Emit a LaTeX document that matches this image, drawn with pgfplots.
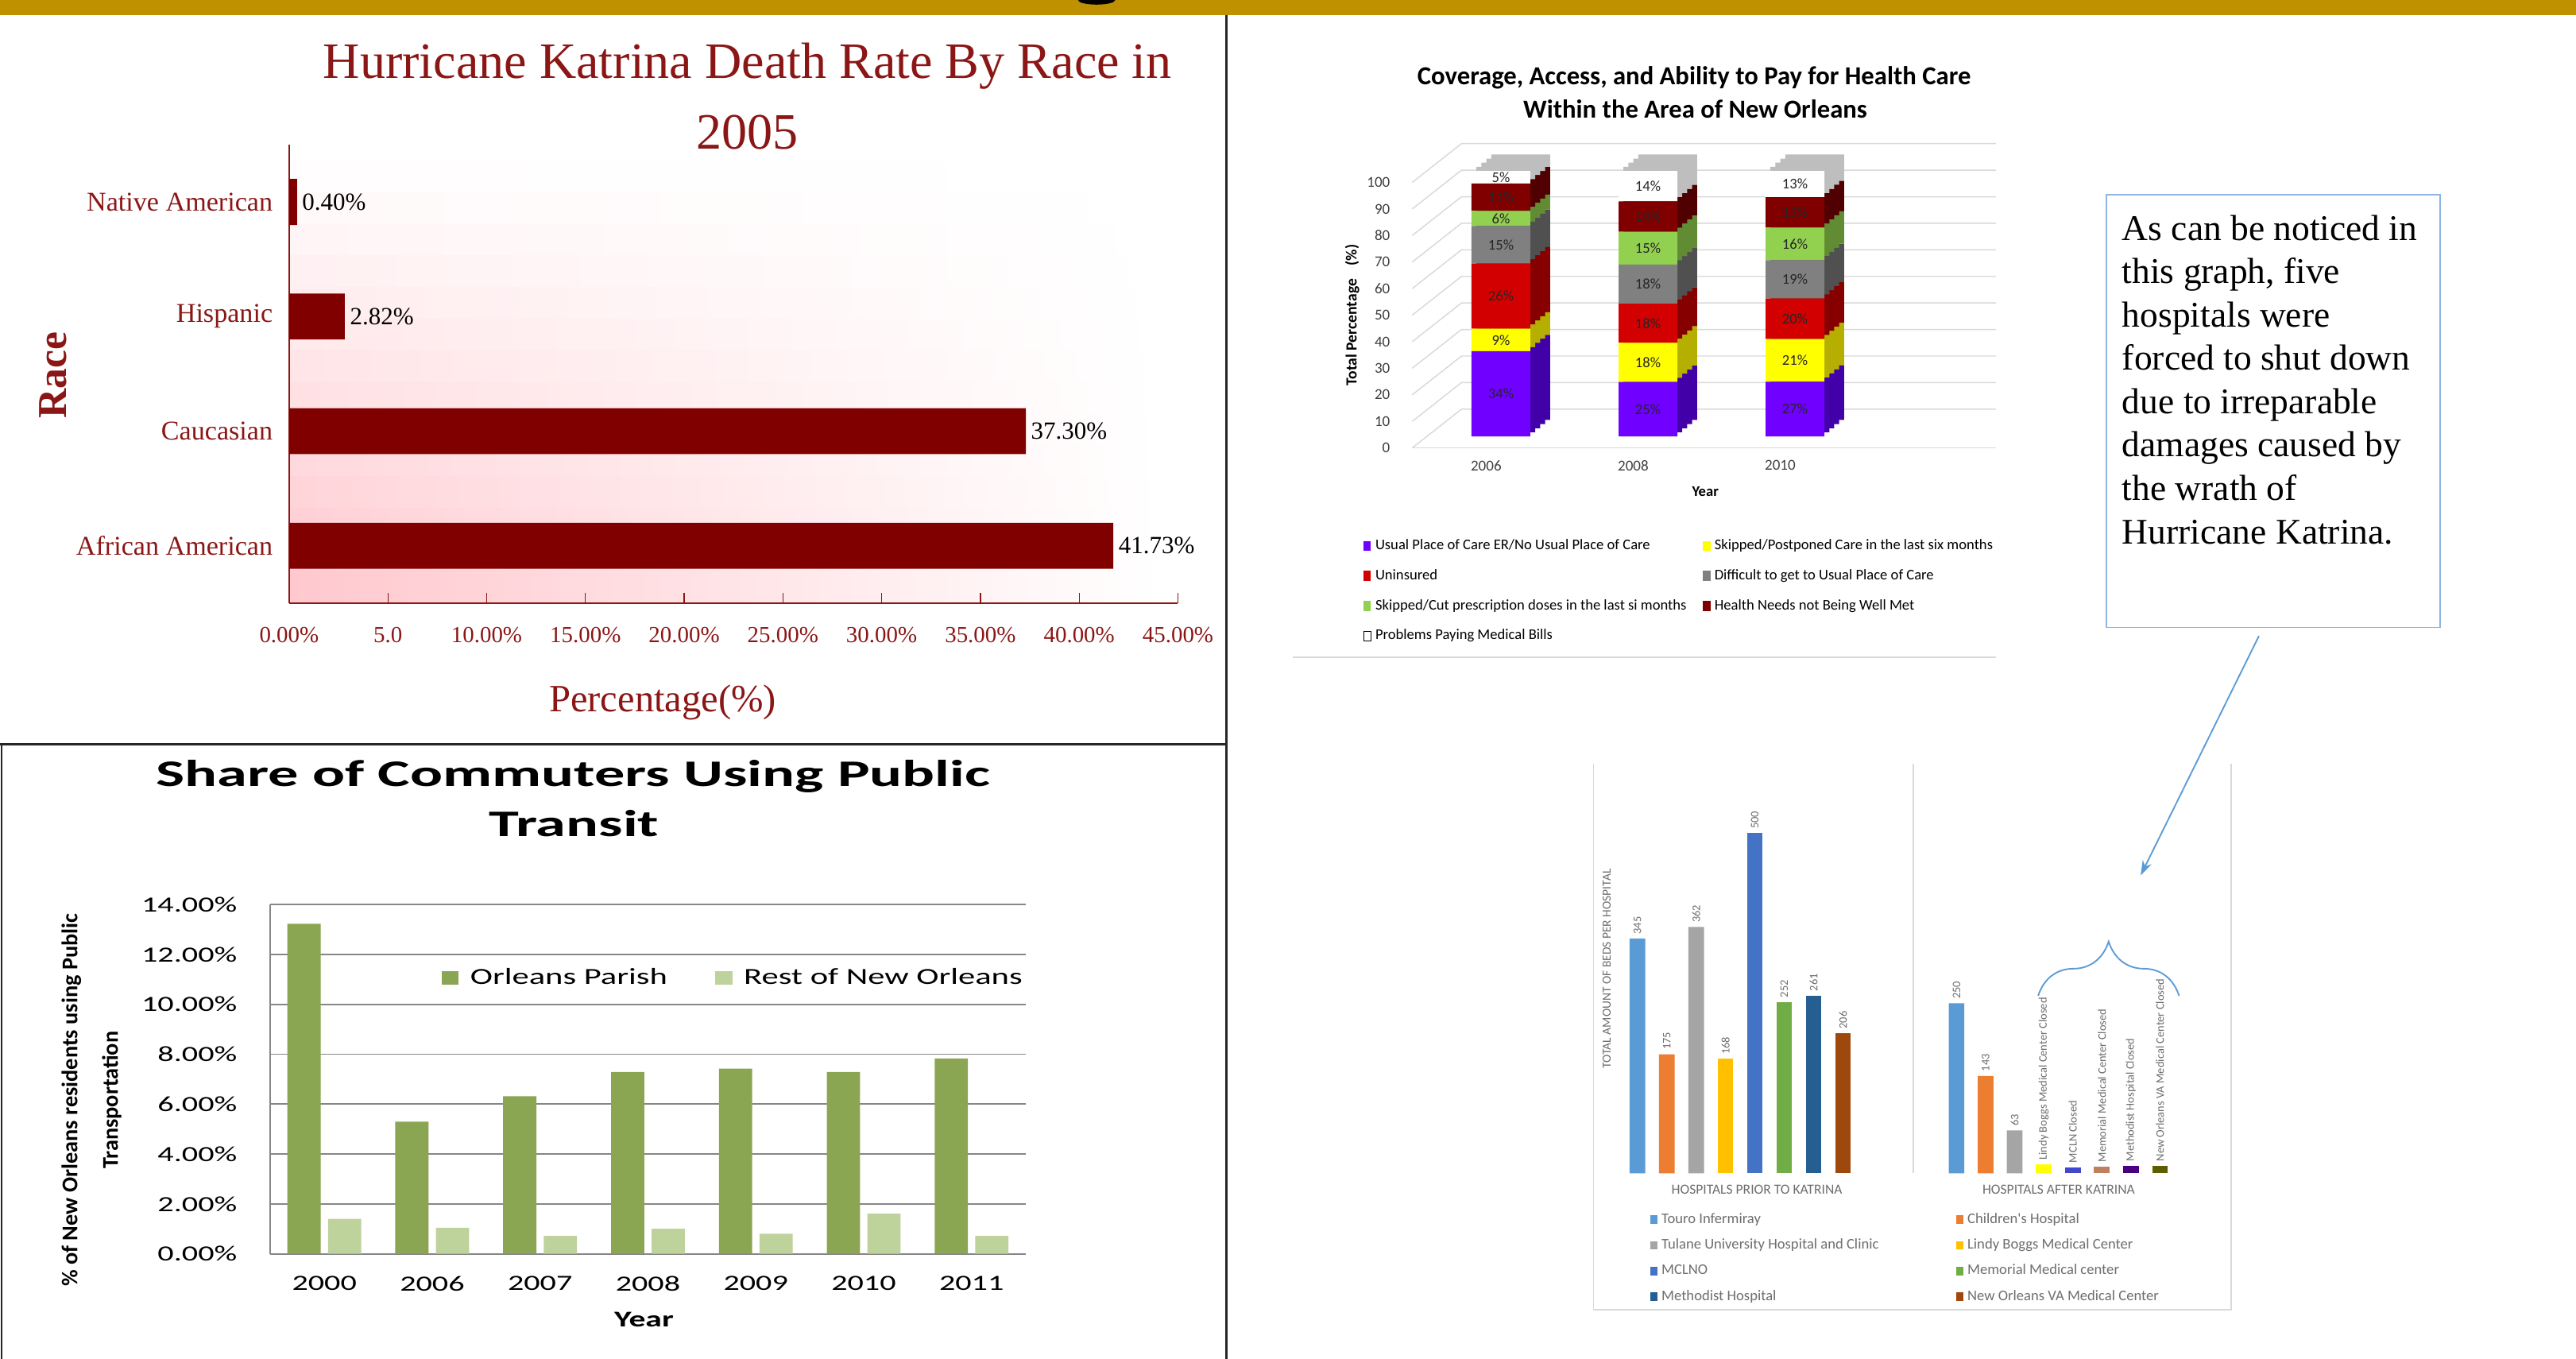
\documentclass[border=0pt]{standalone}
\usepackage{fontspec}
\usepackage{pgfplots}
\usepackage{pgfplotstable}
\pgfplotsset{compat=1.18}
\usetikzlibrary{decorations.pathreplacing,arrows.meta}
\setmainfont{Liberation Serif}
\newfontfamily\simf{Liberation Serif}
\newfontfamily\calib{Carlito}
\newfontfamily\calibW[FakeStretch=1.47]{Carlito}
\newfontfamily\calibT[FakeStretch=1.62]{Carlito}
\newcommand\fs[1]{\fontsize{#1}{#1}\selectfont}

\definecolor{gold}{RGB}{191,144,0}
\definecolor{maroon}{RGB}{128,0,0}
\definecolor{mtext}{RGB}{139,22,22}
\definecolor{pinkA}{RGB}{255,198,204}
\definecolor{cPur}{RGB}{112,0,255}\definecolor{sPur}{RGB}{66,0,168}
\definecolor{cYel}{RGB}{255,255,0}\definecolor{sYel}{RGB}{180,175,0}
\definecolor{cRed}{RGB}{210,0,0}\definecolor{sRed}{RGB}{135,0,0}
\definecolor{cGry}{RGB}{128,128,128}\definecolor{sGry}{RGB}{80,80,80}
\definecolor{cGrn}{RGB}{146,208,80}\definecolor{sGrn}{RGB}{98,140,52}
\definecolor{cDrd}{RGB}{128,0,0}\definecolor{sDrd}{RGB}{80,0,0}
\definecolor{sWht}{RGB}{190,190,190}
\definecolor{wall}{RGB}{217,217,217}
\definecolor{tgrey}{RGB}{64,64,64}
\definecolor{orl}{RGB}{139,166,82}
\definecolor{rest}{RGB}{190,210,156}
\definecolor{gridg}{RGB}{134,134,134}
\definecolor{hTouro}{RGB}{91,155,213}
\definecolor{hChild}{RGB}{237,125,49}
\definecolor{hTulane}{RGB}{165,165,165}
\definecolor{hLindy}{RGB}{255,192,0}
\definecolor{hMclno}{RGB}{68,114,196}
\definecolor{hMemo}{RGB}{112,173,71}
\definecolor{hMeth}{RGB}{37,94,145}
\definecolor{hVA}{RGB}{158,72,14}
\definecolor{kYel}{RGB}{255,255,0}
\definecolor{kBlu}{RGB}{65,72,204}
\definecolor{kTan}{RGB}{191,128,96}
\definecolor{kPur}{RGB}{75,0,130}
\definecolor{kOli}{RGB}{94,94,0}
\definecolor{hgrey}{RGB}{110,110,110}
\definecolor{annot}{RGB}{91,155,213}
\definecolor{boxb}{RGB}{141,180,226}

% v = value, t = bar total, c = sum of the segments below
\pgfplotstableread{
x v t c
0 34 106 0
1 25 122 0
2 27 131 0
}\tPur
\pgfplotstableread{
x v t c
0 9 106 34
1 18 122 25
2 21 131 27
}\tYel
\pgfplotstableread{
x v t c
0 26 106 43
1 18 122 43
2 20 131 48
}\tRed
\pgfplotstableread{
x v t c
0 15 106 69
1 18 122 61
2 19 131 68
}\tGry
\pgfplotstableread{
x v t c
0 6 106 84
1 15 122 79
2 16 131 87
}\tGrn
\pgfplotstableread{
x v t c
0 11 106 90
1 14 122 94
2 15 131 103
}\tDrd
\pgfplotstableread{
x v t c
0 5 106 101
1 14 122 108
2 13 131 118
}\tWht

\pgfplotsset{
  seg/.style={fill=#1, draw=none, legend image code/.code={\fill[#1] (0pt,-3pt) rectangle (4.5pt,3pt);}},
  cm/.style={fill=#1, draw=none, legend image code/.code={\fill[#1] (0pt,-4pt) rectangle (10.6pt,4pt);}},
  hb/.style={ybar, bar width=9.5pt, bar shift=0pt, fill=#1, draw=none, legend image code/.code={\fill[#1] (0pt,-2.6pt) rectangle (4.5pt,2.6pt);}},
  box3d/.style={anchor=south west, scale only axis, width=355.4pt, height=161.6pt,
     xmin=-0.6034, xmax=3.368, ymin=0, ymax=100},
}
\newcommand\shadowaxis[2]{%
\begin{axis}[box3d, at={(#1,#2)}, hide axis, ybar stacked, bar width=35.8pt]
\addplot[fill=sPur, draw=none] table[x=x, y expr=\thisrow{v}/\thisrow{t}*100] {\tPur};
\addplot[fill=sYel, draw=none] table[x=x, y expr=\thisrow{v}/\thisrow{t}*100] {\tYel};
\addplot[fill=sRed, draw=none] table[x=x, y expr=\thisrow{v}/\thisrow{t}*100] {\tRed};
\addplot[fill=sGry, draw=none] table[x=x, y expr=\thisrow{v}/\thisrow{t}*100] {\tGry};
\addplot[fill=sGrn, draw=none] table[x=x, y expr=\thisrow{v}/\thisrow{t}*100] {\tGrn};
\addplot[fill=sDrd, draw=none] table[x=x, y expr=\thisrow{v}/\thisrow{t}*100] {\tDrd};
\addplot[fill=sWht, draw=none] table[x=x, y expr=\thisrow{v}/\thisrow{t}*100] {\tWht};
\end{axis}}

\begin{document}
\begin{tikzpicture}[x=1pt,y=1pt]
\useasboundingbox (0,0) rectangle (1568,-827);
\fill[white] (0,0) rectangle (1568,-827);
\fill[gold] (0,0) rectangle (1568,-9.4);
\fill[black] (667.5,0) ellipse [x radius=11.3, y radius=2.8];

%%%%%%%%%%%%%%%% Panel 1: death rate
\foreach \k in {0,...,13}{%
  \pgfmathsetmacro\ya{-98-\k*19.21}%
  \pgfmathsetmacro\yb{-98-(\k+1)*19.21-0.6}%
  \pgfmathsetmacro\pc{(\k+0.5)/14*100}%
  \shade[left color=pinkA!\pc!white, right color=white] (176.5,\ya) rectangle (705,\yb);
}
\begin{axis}[at={(176pt,-367pt)}, anchor=south west, scale only axis,
  width=541pt, height=279pt,
  xmin=0, xmax=45, ymin=-0.5, ymax=3.5,
  xbar, bar width=28pt,
  axis x line*=bottom, axis y line*=left,
  axis line style={mtext, line width=0.7pt},
  xtick={0,5,...,45},
  xticklabels={0.00\%,5.0,10.00\%,15.00\%,20.00\%,25.00\%,30.00\%,35.00\%,40.00\%,45.00\%},
  tick align=inside, major tick length=6pt, xtick style={mtext, line width=0.6pt},
  ytick={0,1,2,3}, yticklabels={African American,Caucasian,Hispanic,Native American},
  ytick style={draw=none},
  xticklabel style={font=\simf\fs{14}, text=mtext, yshift=-11pt},
  yticklabel style={font=\simf\fs{16.5}, text=mtext, xshift=-6.5pt},
  nodes near coords, point meta=explicit symbolic,
  every node near coord/.append style={font=\simf\fs{15}, text=black, anchor=west, inner sep=3pt},
]
\addplot[fill=maroon, draw=none] coordinates {(41.73,0) [41.73\%] (37.30,1) [37.30\%] (2.82,2) [2.82\%] (0.40,3) [0.40\%]};
\end{axis}
\node[anchor=base, font=\simf\fs{31}, text=mtext] at (455,-47.8) {Hurricane Katrina Death Rate By Race in};
\node[anchor=base, font=\simf\fs{31}, text=mtext] at (455,-90.5) {2005};
\node[anchor=base, font=\simf\fs{23.5}, text=mtext] at (403.4,-433) {Percentage(\%)};
\node[rotate=90, font=\simf\bfseries\fs{25}, text=mtext] at (32.5,-228.4) {Race};

%%%%%%%%%%%%%%%% Panel 2: 3D stacked (100 % stacked)
\foreach \v in {0,10,...,100}{%
  \pgfmathsetmacro\yf{-272.6+1.616*\v}%
  \pgfmathsetmacro\yk{-249+1.616*\v}%
  \draw[wall, line width=0.7pt] (859.6,\yf) -- (889.6,\yk) -- (1215,\yk);
}
\draw[wall, line width=0.7pt] (859.6,-272.6) -- (1215,-272.6);
\begin{axis}[box3d, at={(859.6pt,-272.6pt)},
  axis line style={draw=none}, major tick length=0pt,
  xtick={0,1,2}, xticklabels={2006,2008,2010},
  ytick={0,10,...,100}, yticklabels={0,10,20,30,40,50,60,70,80,90,100},
  tick label style={font=\calib\fs{9.2}, text=tgrey},
  xticklabel style={xshift=-9pt, yshift=-4pt},
  yticklabel style={xshift=-10pt}]
\end{axis}
\shadowaxis{871.6pt}{-255.6pt}
\shadowaxis{868.6pt}{-258.1pt}
\shadowaxis{865.6pt}{-260.6pt}
\shadowaxis{862.6pt}{-263.1pt}
\begin{axis}[box3d, at={(859.6pt,-265.6pt)}, hide axis,
  ybar stacked, bar width=35.8pt,
  legend columns=2, legend cell align=left,
  legend style={at={(-0.0847,-0.3793)}, anchor=north west, draw=none, fill=none, inner sep=0pt,
    font=\calib\fs{9}, row sep=8.2pt, nodes={inner sep=1pt, text height=6.3pt, text depth=1.8pt},
    /tikz/every odd column/.append style={column sep=1.5pt},
    /tikz/every even column/.append style={column sep=9pt}},
]
\addplot[seg=cPur] table[x=x, y expr=\thisrow{v}/\thisrow{t}*100] {\tPur};
\addlegendentry{Usual Place of Care ER/No Usual Place of Care}
\addplot[seg=cYel] table[x=x, y expr=\thisrow{v}/\thisrow{t}*100] {\tYel};
\addlegendentry{Skipped/Postponed Care in the last six months}
\addplot[seg=cRed] table[x=x, y expr=\thisrow{v}/\thisrow{t}*100] {\tRed};
\addlegendentry{Uninsured}
\addplot[seg=cGry] table[x=x, y expr=\thisrow{v}/\thisrow{t}*100] {\tGry};
\addlegendentry{Difficult to get to Usual Place of Care}
\addplot[seg=cGrn] table[x=x, y expr=\thisrow{v}/\thisrow{t}*100] {\tGrn};
\addlegendentry{Skipped/Cut prescription doses in the last si months}
\addplot[seg=cDrd] table[x=x, y expr=\thisrow{v}/\thisrow{t}*100] {\tDrd};
\addlegendentry{Health Needs not Being Well Met}
\addplot[fill=white, draw=none, legend image code/.code={\draw[black, fill=white, line width=0.5pt] (0pt,-3pt) rectangle (4.5pt,3pt);}] table[x=x, y expr=\thisrow{v}/\thisrow{t}*100] {\tWht};
\addlegendentry{Problems Paying Medical Bills}
\end{axis}
% segment labels, at the middle of each segment
\begin{axis}[box3d, at={(859.6pt,-265.6pt)}, hide axis,
  nodes near coords={\pgfplotspointmeta\%},
  point meta=explicit symbolic,
  every node near coord/.append style={font=\calib\fs{9}, text=black!85, anchor=center, inner sep=0pt},
]
\addplot[draw=none, mark=none] table[x=x, y expr=(\thisrow{c}+0.5*\thisrow{v})/\thisrow{t}*100, meta=v] {\tPur};
\addplot[draw=none, mark=none] table[x=x, y expr=(\thisrow{c}+0.5*\thisrow{v})/\thisrow{t}*100, meta=v] {\tYel};
\addplot[draw=none, mark=none] table[x=x, y expr=(\thisrow{c}+0.5*\thisrow{v})/\thisrow{t}*100, meta=v] {\tRed};
\addplot[draw=none, mark=none] table[x=x, y expr=(\thisrow{c}+0.5*\thisrow{v})/\thisrow{t}*100, meta=v] {\tGry};
\addplot[draw=none, mark=none] table[x=x, y expr=(\thisrow{c}+0.5*\thisrow{v})/\thisrow{t}*100, meta=v] {\tGrn};
\addplot[draw=none, mark=none] table[x=x, y expr=(\thisrow{c}+0.5*\thisrow{v})/\thisrow{t}*100, meta=v] {\tDrd};
\addplot[draw=none, mark=none] table[x=x, y expr=(\thisrow{c}+0.5*\thisrow{v})/\thisrow{t}*100, meta=v] {\tWht};
\end{axis}
\node[anchor=base, font=\calib\bfseries\fs{15.8}] at (1031.2,-51.5) {Coverage, Access, and Ability to Pay for Health Care};
\node[anchor=base, font=\calib\bfseries\fs{15.8}] at (1031.9,-71.9) {Within the Area of New Orleans};
\node[rotate=90, font=\calib\bfseries\fs{9.5}] at (823,-191.8) {Total Percentage\hspace{8pt}(\%)};
\node[font=\calib\bfseries\fs{9}] at (1038,-299) {Year};
\draw[wall, line width=0.8pt] (787,-400) -- (1215,-400);

%%%%%%%%%%%%%%%% Panel 3: commuters
\begin{axis}[at={(164.6pt,-763pt)}, anchor=south west, scale only axis,
  width=459.6pt, height=212.5pt,
  xmin=-0.5, xmax=6.5, ymin=0, ymax=14,
  ybar=4.55pt, bar width=20.2pt,
  axis x line*=bottom, axis y line*=left, axis line style={gridg, line width=0.9pt},
  ymajorgrids, grid style={gridg, line width=0.8pt},
  major tick length=0pt,
  xtick={0,...,6}, xticklabels={2000,2006,2007,2008,2009,2010,2011},
  ytick={0,2,...,14}, yticklabels={0.00\%,2.00\%,4.00\%,6.00\%,8.00\%,10.00\%,12.00\%,14.00\%},
  tick label style={font=\calibW\fs{13.2}, text=black},
  xticklabel style={yshift=-10pt},
  yticklabel style={xshift=-16.8pt},
  legend columns=2, legend cell align=left,
  legend style={at={(0.226,0.7906)}, anchor=west, draw=none, fill=none, inner sep=0pt,
    font=\calibW\fs{14}, nodes={inner sep=2pt},
    /tikz/every odd column/.append style={column sep=5pt},
    /tikz/every even column/.append style={column sep=27pt}},
]
\addplot[cm=orl] coordinates {(0,13.23) (1,5.30) (2,6.32) (3,7.29) (4,7.42) (5,7.29) (6,7.83)};
\addlegendentry{Orleans Parish}
\addplot[cm=rest] coordinates {(0,1.40) (1,1.04) (2,0.72) (3,1.00) (4,0.80) (5,1.61) (6,0.72)};
\addlegendentry{Rest of New Orleans}
\end{axis}
\node[anchor=base, font=\calibT\bfseries\fs{22.8}] at (348.9,-478.6) {Share of Commuters Using Public};
\node[anchor=base, font=\calibT\bfseries\fs{22.8}] at (349.4,-508.8) {Transit};
\node[rotate=90, align=center, font=\calib\bfseries\fontsize{13.7}{24.7}\selectfont] at (55.7,-669.5) {\% of New Orleans residents using Public\\Transportation};
\node[anchor=base, font=\calibW\bfseries\fs{13.7}] at (392,-807.5) {Year};

%%%%%%%%%%%%%%%% Panel 4: hospitals
\begin{axis}[at={(970pt,-714pt)}, anchor=south west, scale only axis,
  width=388pt, height=249pt,
  xmin=-1.494, xmax=20.22, ymin=0, ymax=601.5, hide axis,
  nodes near coords, point meta=explicit symbolic,
  every node near coord/.append style={rotate=90, anchor=west, font=\calib\fs{7}, text=hgrey, inner sep=2.5pt},
  legend columns=2, legend cell align=left,
  legend style={at={(0.0881,-0.0924)}, anchor=north west, draw=none, fill=none, inner sep=0pt,
    font=\calib\fs{9}, text=hgrey, row sep=5.5pt, nodes={inner sep=1pt, text height=6.3pt, text depth=1.8pt},
    /tikz/every odd column/.append style={column sep=1.5pt},
    /tikz/every even column/.append style={column sep=46pt}},
]
\addplot[hb=hTouro] coordinates {(0,345) [345] (10.87,250) [250]};
\addlegendentry{Touro Infermiray}
\addplot[hb=hChild] coordinates {(1,175) [175] (11.86,143) [143]};
\addlegendentry{Children's Hospital}
\addplot[hb=hTulane] coordinates {(2,362) [362] (12.85,63) [63]};
\addlegendentry{Tulane University Hospital and Clinic}
\addplot[hb=hLindy] coordinates {(3,168) [168]};
\addlegendentry{Lindy Boggs Medical Center}
\addplot[hb=hMclno] coordinates {(4,500) [500]};
\addlegendentry{MCLNO}
\addplot[hb=hMemo] coordinates {(5,252) [252]};
\addlegendentry{Memorial Medical center}
\addplot[hb=hMeth] coordinates {(6,261) [261]};
\addlegendentry{Methodist Hospital}
\addplot[hb=hVA] coordinates {(7,206) [206]};
\addlegendentry{New Orleans VA Medical Center}
\addplot[hb=kYel, forget plot] coordinates {(13.84,13) [Lindy Boggs Medical Center Closed]};
\addplot[hb=kBlu, forget plot] coordinates {(14.83,9) [MCLN Closed]};
\addplot[hb=kTan, forget plot] coordinates {(15.82,10) [Memorial Medical Center Closed]};
\addplot[hb=kPur, forget plot] coordinates {(16.81,11) [Methodist Hospital Closed]};
\addplot[hb=kOli, forget plot] coordinates {(17.80,11) [New Orleans VA Medical Center Closed]};
\end{axis}
\node[rotate=90, font=\calib\fs{7.5}, text=hgrey] at (978,-589.5) {TOTAL AMOUNT OF BEDS PER HOSPITAL};
\node[font=\calib\fs{8.5}, text=hgrey] at (1069.4,-724) {HOSPITALS PRIOR TO KATRINA};
\node[font=\calib\fs{8.5}, text=hgrey] at (1253.1,-724) {HOSPITALS AFTER KATRINA};
\draw[wall, line width=0.8pt] (970,-465) -- (970,-797) -- (1358,-797) -- (1358,-465);
\draw[wall, line width=0.8pt] (1164.5,-465) -- (1164.5,-714);
\draw[annot, line width=0.9pt, decorate, decoration={brace, amplitude=33pt}] (1240.6,-606) -- (1326.4,-606);
\draw[annot, line width=0.9pt, -{Stealth[length=9pt, width=6pt]}] (1375,-387) -- (1303,-532.7);

%%%%%%%%%%%%%%%% Text box
\draw[boxb, line width=0.8pt] (1282,-118.5) rectangle (1485.4,-381.9);
\node[anchor=north west, align=left, inner sep=0pt, font=\fontsize{22}{26.4}\selectfont] at (1291.6,-130.6) {As can be noticed in\\this graph, five\\hospitals were\\forced to shut down\\due to irreparable\\damages caused by\\the wrath of\\Hurricane Katrina.};

%%%%%%%%%%%%%%%% Panel borders
\draw[black!85, line width=1.2pt] (746.5,-9.4) -- (746.5,-827);
\draw[black!85, line width=1.6pt] (0,-452.8) -- (746.5,-452.8);
\draw[black!85, line width=1.2pt] (1,-452.8) -- (1,-827);
\end{tikzpicture}
\end{document}
